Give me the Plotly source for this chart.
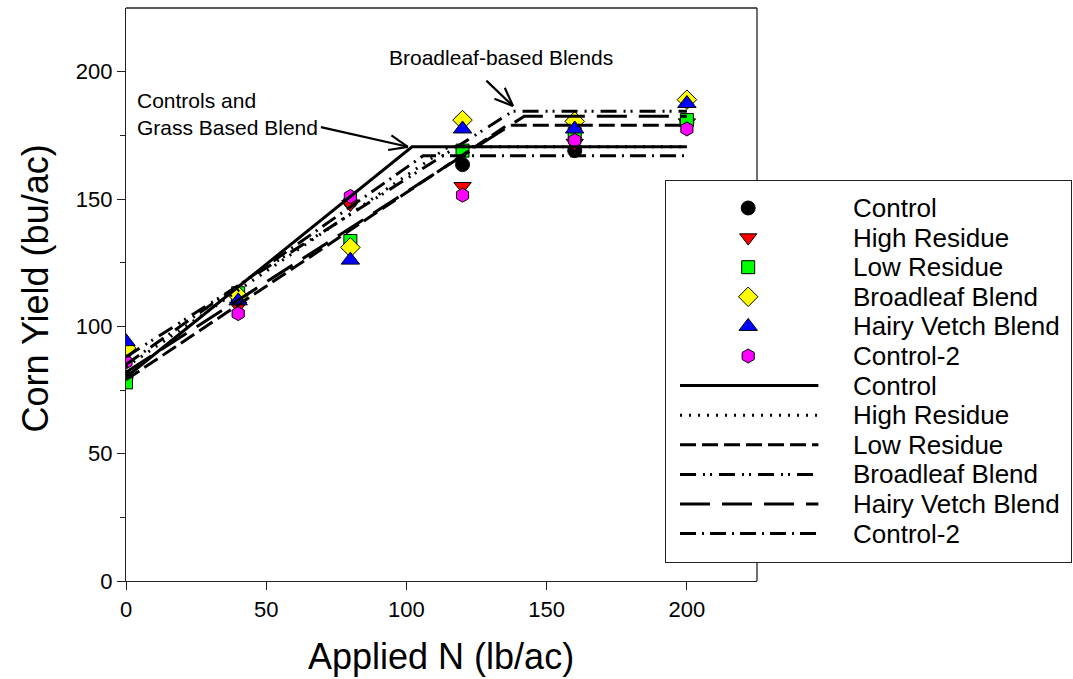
import math
import plotly.graph_objects as go

# ---------------- data ----------------
n_rates = [0, 40, 80, 120, 160, 200]
series_names = ["Control", "High Residue", "Low Residue", "Broadleaf Blend",
                "Hairy Vetch Blend", "Control-2"]
control = [80, 110, 149, 163.5, 169, 180]
high_residue = [89, 108, 148, 155, 172, 180]
low_residue = [78, 113, 133.5, 169, 175.5, 181]
broadleaf = [91.5, 112, 131, 181, 180.5, 189]
hairy_vetch = [94, 110, 126, 177.5, 177.5, 187.5]
control2 = [86, 105, 151, 151.5, 173, 177.5]
point_values = [control, high_residue, low_residue, broadleaf, hairy_vetch, control2]

# linear-plateau fit lines (breakpoints)
fit_x = {
    "Control": [0, 102, 200],
    "High Residue": [0, 115, 200],
    "Low Residue": [0, 136, 200],
    "Broadleaf Blend": [0, 138, 200],
    "Hairy Vetch Blend": [0, 142, 200],
    "Control-2": [0, 106, 200],
}
fit_y = {
    "Control": [80, 170.5, 170.5],
    "High Residue": [84, 170.5, 170.5],
    "Low Residue": [79, 179, 179],
    "Broadleaf Blend": [88, 184.5, 184.5],
    "Hairy Vetch Blend": [82, 182.5, 182.5],
    "Control-2": [85, 167, 167],
}

x_ticks = [0, 50, 100, 150, 200]
y_ticks = [0, 50, 100, 150, 200]

# ---------------- styles ----------------
marker_symbols = ["circle", "triangle-down", "square", "diamond", "triangle-up", "hexagon"]
marker_colors = ["#000000", "#ff0000", "#00ff00", "#ffff00", "#0000ff", "#ff00ff"]
marker_sizes = [14, 15, 13, 15, 16, 14]
line_dashes = ["solid", "2px,7px", "16px,6px", "16px,7px,2px,5px,2px,7px",
               "30px,12px", "16px,6px,2px,6px"]

FONT = "Liberation Sans, Arial, sans-serif"
X_RANGE = [0, 225]
Y_RANGE = [0, 225]
PLOT_W = 631
PLOT_H = 573

fig = go.Figure()

# markers
for name, vals, sym, col, sz in zip(series_names, point_values, marker_symbols,
                                    marker_colors, marker_sizes):
    fig.add_trace(go.Scatter(
        x=n_rates, y=vals, mode="markers", name=name, showlegend=False,
        marker=dict(symbol=sym, color=col, size=sz,
                    line=dict(color="black", width=1)),
        xaxis="x", yaxis="y"))

# fit lines
for name, dash in zip(series_names, line_dashes):
    fig.add_trace(go.Scatter(
        x=fit_x[name], y=fit_y[name], mode="lines", name=name, showlegend=False,
        line=dict(color="black", width=3, dash=dash),
        xaxis="x", yaxis="y"))

# ---------------- manual legend on a helper subplot ----------------
leg_marker_x = 82
leg_line_x = [14, 152]
leg_text_x = 185
row_y = [354 - 29.6 * i for i in range(12)]

for i, (name, sym, col, sz) in enumerate(zip(series_names, marker_symbols,
                                             marker_colors, marker_sizes)):
    fig.add_trace(go.Scatter(
        x=[leg_marker_x], y=[row_y[i]], mode="markers", showlegend=False,
        hoverinfo="skip",
        marker=dict(symbol=sym, color=col, size=sz, line=dict(color="black", width=1)),
        xaxis="x2", yaxis="y2"))
    fig.add_annotation(x=leg_text_x, y=row_y[i], xref="x2", yref="y2",
                       text=name, showarrow=False, xanchor="left", yanchor="middle",
                       font=dict(family=FONT, size=26, color="black"))

for j, (name, dash) in enumerate(zip(series_names, line_dashes)):
    r = row_y[6 + j]
    fig.add_trace(go.Scatter(
        x=leg_line_x, y=[r, r], mode="lines", showlegend=False, hoverinfo="skip",
        line=dict(color="black", width=3, dash=dash),
        xaxis="x2", yaxis="y2"))
    fig.add_annotation(x=leg_text_x, y=r, xref="x2", yref="y2",
                       text=name, showarrow=False, xanchor="left", yanchor="middle",
                       font=dict(family=FONT, size=26, color="black"))

# ---------------- annotations in plot ----------------
fig.add_annotation(x=3.3, y=194, xref="x", yref="y", xanchor="left", yanchor="top",
                   text="Controls and<br>Grass Based Blend", align="left",
                   showarrow=False, font=dict(family=FONT, size=21, color="black"))
fig.add_annotation(x=93, y=211, xref="x", yref="y", xanchor="left", yanchor="top",
                   text="Broadleaf-based Blends", showarrow=False,
                   font=dict(family=FONT, size=21, color="black"))

# open "stick" arrows: shaft + two barbs (geometry in data units)
arrows = [((69.5, 178.2), (100.5, 170.5)), ((128.5, 196.5), (138.0, 186.5))]
sx = PLOT_W / (X_RANGE[1] - X_RANGE[0])
sy = PLOT_H / (Y_RANGE[1] - Y_RANGE[0])
barb_len = 20
barb_ang = math.radians(22)
for (tx, ty), (hx, hy) in arrows:
    fig.add_shape(type="line", xref="x", yref="y", x0=tx, y0=ty, x1=hx, y1=hy,
                  line=dict(color="black", width=2.2))
    dxp, dyp = (tx - hx) * sx, (ty - hy) * sy
    a = math.atan2(dyp, dxp)
    for s in (-1, 1):
        ang = a + s * barb_ang
        bx = hx + barb_len * math.cos(ang) / sx
        by = hy + barb_len * math.sin(ang) / sy
        fig.add_shape(type="line", xref="x", yref="y", x0=hx, y0=hy, x1=bx, y1=by,
                      line=dict(color="black", width=2.2))

# axis titles
fig.add_annotation(x=-0.096, y=0.511, xref="paper", yref="paper", text="Corn Yield (bu/ac)",
                   textangle=-90, showarrow=False, xanchor="center", yanchor="middle",
                   font=dict(family=FONT, size=36, color="black"))
fig.add_annotation(x=0.333, y=-0.131, xref="paper", yref="paper", text="Applied N (lb/ac)",
                   showarrow=False, xanchor="center", yanchor="middle",
                   font=dict(family=FONT, size=36, color="black"))

main_right = PLOT_W / 945
leg_top = 0.6981
leg_bot = 0.0332
frame = dict(color="#222222", width=1.3)
fig.add_shape(type="line", xref="paper", yref="paper", x0=0, x1=main_right, y0=1, y1=1, line=frame)
fig.add_shape(type="line", xref="paper", yref="paper", x0=main_right, x1=main_right, y0=1, y1=leg_top, line=frame)
fig.add_shape(type="line", xref="paper", yref="paper", x0=main_right, x1=main_right, y0=leg_bot, y1=0, line=frame)

fig.update_layout(
    width=1073, height=679,
    margin=dict(l=126, r=2, t=8, b=98),
    paper_bgcolor="white", plot_bgcolor="white",
    showlegend=False,
    font=dict(family=FONT, color="black"),
    xaxis=dict(domain=[0, main_right], range=X_RANGE, tickvals=x_ticks,
               ticks="outside", ticklen=8, tickwidth=1, tickcolor="#222222",
               showline=True, linecolor="#222222", linewidth=1.3,
               showgrid=False, zeroline=False,
               tickfont=dict(family=FONT, size=22, color="black"), anchor="y"),
    yaxis=dict(domain=[0, 1], range=Y_RANGE, tickvals=y_ticks,
               ticks="outside", ticklen=8, tickwidth=1, tickcolor="#222222",
               minor=dict(tickvals=[25, 75, 125, 175], ticks="outside", ticklen=5,
                          tickcolor="#222222"),
               showline=True, linecolor="#222222", linewidth=1.3,
               showgrid=False, zeroline=False,
               tickfont=dict(family=FONT, size=22, color="black"), anchor="x"),
    xaxis2=dict(domain=[540 / 945, 1.0], range=[0, 404], anchor="y2",
                showticklabels=False, ticks="", showgrid=False, zeroline=False,
                showline=True, mirror=True, linecolor="#222222", linewidth=1.3,
                fixedrange=True),
    yaxis2=dict(domain=[leg_bot, leg_top], range=[0, 381], anchor="x2",
                showticklabels=False, ticks="", showgrid=False, zeroline=False,
                showline=True, mirror=True, linecolor="#222222", linewidth=1.3,
                fixedrange=True),
)

fig.write_html("out.html")
